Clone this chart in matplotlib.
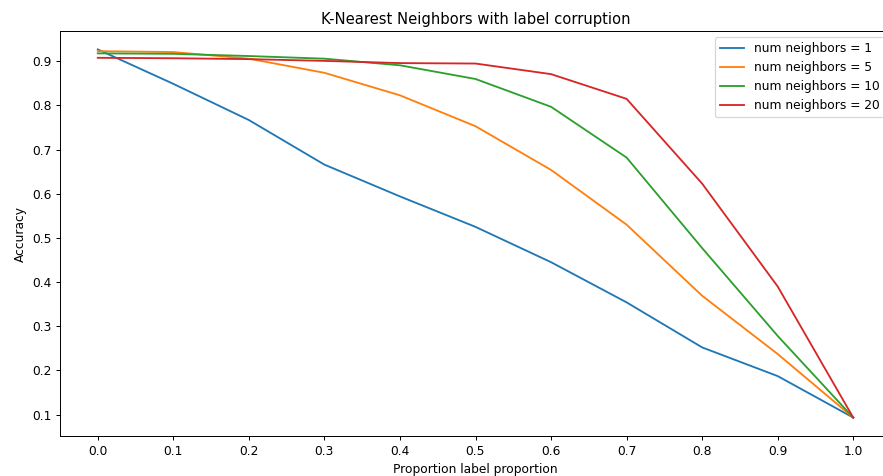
import matplotlib
matplotlib.use("Agg")
import matplotlib.pyplot as plt

proportions = [0.0, 0.1, 0.2, 0.3, 0.4, 0.5, 0.6, 0.7, 0.8, 0.9, 1.0]
acc_k1 = [0.927, 0.849, 0.767, 0.666, 0.594, 0.525, 0.445, 0.354, 0.252, 0.187, 0.093]
acc_k5 = [0.923, 0.921, 0.906, 0.874, 0.823, 0.753, 0.654, 0.530, 0.369, 0.237, 0.093]
acc_k10 = [0.918, 0.917, 0.912, 0.906, 0.891, 0.860, 0.797, 0.682, 0.477, 0.278, 0.093]
acc_k20 = [0.908, 0.907, 0.905, 0.901, 0.896, 0.895, 0.871, 0.815, 0.623, 0.390, 0.093]
labels = ["num neighbors = 1", "num neighbors = 5", "num neighbors = 10", "num neighbors = 20"]
xticks = [0.0, 0.1, 0.2, 0.3, 0.4, 0.5, 0.6, 0.7, 0.8, 0.9, 1.0]
yticks = [0.1, 0.2, 0.3, 0.4, 0.5, 0.6, 0.7, 0.8, 0.9]

W, H, DPI = 883, 476, 88.5
fig = plt.figure(figsize=(W / DPI, H / DPI), dpi=DPI)
ax = fig.add_axes([60 / W, (H - 436) / H, (891 - 60) / W, (436 - 31) / H])

for series, lab in zip([acc_k1, acc_k5, acc_k10, acc_k20], labels):
    ax.plot(proportions, series, label=lab)

ax.set_xticks(xticks)
ax.set_yticks(yticks)
ax.set_title("K-Nearest Neighbors with label corruption")
ax.set_xlabel("Proportion label proportion")
ax.set_ylabel("Accuracy")
ax.legend(loc="upper right")

fig.savefig("out.png", dpi=DPI)
